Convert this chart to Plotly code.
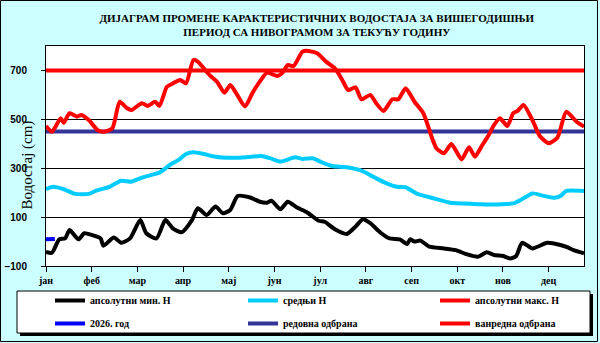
import plotly.graph_objects as go

# дан у години (0-365) и водостаји у cm, очитано са дијаграма
min_days = [0, 4, 9, 13, 16, 22, 26, 31, 37, 39, 46, 51, 57, 64, 68, 75, 81, 86, 92, 99,
            103, 109, 115, 120, 125, 130, 138, 145, 150, 153, 159, 164, 170, 174, 178, 185,
            189, 196, 204, 210, 215, 220, 227, 233, 240, 245, 247, 250, 254, 260, 270, 278,
            285, 293, 299, 304, 310, 315, 319, 323, 330, 340, 349, 354, 358, 365]
min_vals = [-42, -46, 9, 13, 47, 9, 34, 27, 13, -17, 17, -5, 13, 88, 34, 13, 88, 54, 38, 88,
            136, 109, 143, 116, 129, 186, 181, 163, 159, 167, 132, 163, 140, 129, 116, 85,
            81, 50, 31, 61, 91, 75, 36, 13, 9, -10, 9, 0, 4, -21, -28, -35,
            -51, -62, -44, -55, -59, -69, -59, -5, -28, -5, -14, -24, -35, -48]

mean_days = [0, 5, 12, 20, 29, 34, 43, 51, 58, 64, 71, 77, 84, 90, 95, 100, 107, 115, 125,
             136, 146, 152, 159, 169, 174, 181, 186, 194, 204, 214, 222, 231, 238, 244, 252,
             263, 274, 290, 306, 317, 324, 330, 337, 345, 349, 353, 365]
mean_vals = [214, 224, 214, 195, 195, 208, 224, 249, 245, 259, 272, 282, 313, 334, 358, 365,
             358, 347, 343, 345, 350, 341, 327, 345, 338, 341, 327, 309, 304, 290, 265, 238,
             224, 222, 195, 177, 159, 154, 152, 156, 177, 197, 188, 179, 186, 207, 207]

max_days = [0, 4, 10, 12, 16, 21, 24, 29, 35, 39, 45, 50, 55, 58, 65, 69, 74, 77, 82, 86,
            91, 95, 100, 103, 111, 116, 121, 125, 129, 135, 140, 145, 150, 157, 160, 164,
            168, 174, 178, 184, 190, 196, 201, 205, 210, 214, 220, 224, 229, 235, 239, 244,
            250, 256, 262, 265, 270, 275, 282, 287, 291, 296, 300, 304, 308, 313, 317, 320,
            324, 330, 335, 341, 347, 353, 360, 365]
max_vals = [473, 449, 504, 486, 525, 511, 518, 497, 456, 449, 463, 572, 545, 538, 566, 555,
            572, 555, 633, 647, 661, 647, 743, 736, 681, 654, 609, 640, 607, 552, 607, 654,
            691, 677, 688, 722, 718, 777, 780, 770, 736, 709, 661, 620, 631, 582, 600, 566,
            534, 582, 582, 627, 572, 525, 422, 381, 361, 399, 336, 386, 347, 395, 432, 477,
            504, 473, 525, 535, 559, 497, 432, 402, 426, 531, 490, 470]

cur_days = [0, 3, 6]
cur_vals = [9, 10, 10]

redovna = 450
vanredna = 700

month_days = [0, 31, 62, 93, 124, 155, 186, 217, 248, 279, 310, 341]
month_labels = ["јан", "феб", "мар", "апр", "мај", "јун", "јул", "авг", "сеп", "окт", "нов", "дец"]

fig = go.Figure()

fig.add_trace(go.Scatter(x=min_days, y=min_vals, mode="lines", name="апсолутни мин. Н",
                         line=dict(color="black", width=4, shape="spline", smoothing=0.6),
                         legend="legend", legendgroup="a"))
fig.add_trace(go.Scatter(x=cur_days, y=cur_vals, mode="lines", name="2026. год",
                         line=dict(color="#0000ff", width=4),
                         legend="legend", legendgroup="b"))
fig.add_trace(go.Scatter(x=mean_days, y=mean_vals, mode="lines", name="средњи Н",
                         line=dict(color="#00ccff", width=4, shape="spline", smoothing=0.6),
                         legend="legend2", legendgroup="c"))
fig.add_trace(go.Scatter(x=[0, 365], y=[redovna, redovna], mode="lines", name="редовна одбрана",
                         line=dict(color="#333399", width=4),
                         legend="legend2", legendgroup="d"))
fig.add_trace(go.Scatter(x=max_days, y=max_vals, mode="lines", name="апсолутни макс. Н",
                         line=dict(color="#ff0000", width=4, shape="spline", smoothing=0.6),
                         legend="legend3", legendgroup="e"))
fig.add_trace(go.Scatter(x=[0, 365], y=[vanredna, vanredna], mode="lines", name="ванредна одбрана",
                         line=dict(color="#ff0000", width=4),
                         legend="legend3", legendgroup="f"))

# пиксели -> paper координате (површина графика 46..584 x 46..266)
def px(x):
    return (x - 46) / 538

def py(y):
    return (266 - y) / 220

leg_font = dict(family="Liberation Serif", size=10, color="black", weight="bold")
leg_common = dict(orientation="v", yanchor="top", y=py(286), xanchor="left",
                  bgcolor="rgba(0,0,0,0)", borderwidth=0, font=leg_font, tracegroupgap=4)

shapes = [
    # спољни оквир
    dict(type="rect", xref="paper", yref="paper", x0=px(0.5), x1=px(597.5), y0=py(0.5), y1=py(341.5),
         line=dict(color="black", width=1), fillcolor="rgba(0,0,0,0)", layer="below"),
    # сенка и оквир легенде
    dict(type="rect", xref="paper", yref="paper", x0=px(20), x1=px(593), y0=py(294), y1=py(336),
         line=dict(width=0), fillcolor="black", layer="below"),
    dict(type="rect", xref="paper", yref="paper", x0=px(17), x1=px(590), y0=py(291), y1=py(333),
         line=dict(color="black", width=1), fillcolor="white", layer="below"),
]

fig.update_layout(
    width=600, height=343,
    margin=dict(l=46, r=16, t=46, b=77, autoexpand=False),
    paper_bgcolor="#ccffff",
    plot_bgcolor="white",
    title=dict(text="ДИЈАГРАМ ПРОМЕНЕ КАРАКТЕРИСТИЧНИХ ВОДОСТАЈА ЗА ВИШЕГОДИШЊИ<br>ПЕРИОД СА НИВОГРАМОМ ЗА ТЕКУЋУ ГОДИНУ",
               x=0.528, xanchor="center", y=1 - 22 / 343, yanchor="middle",
               font=dict(family="Liberation Serif", size=11, color="black", weight="bold")),
    legend=dict(x=px(50), **leg_common),
    legend2=dict(x=px(243), **leg_common),
    legend3=dict(x=px(435), **leg_common),
    shapes=shapes,
    annotations=[dict(text="Водостај (cm)", xref="paper", yref="paper", x=px(16), y=py(165),
                      textangle=-90, showarrow=False,
                      font=dict(family="Liberation Serif", size=15, color="black"))],
    xaxis=dict(range=[0, 365], tickvals=month_days, ticktext=month_labels,
               ticks="outside", ticklen=5, tickcolor="black", showgrid=False, zeroline=False,
               showline=True, linecolor="black", linewidth=1, mirror=True,
               tickfont=dict(family="Liberation Serif", size=10, color="black", weight="bold")),
    yaxis=dict(range=[-100, 800], tick0=-100, dtick=200, ticks="outside", ticklen=4,
               tickcolor="black", showgrid=True, gridcolor="black", gridwidth=1, zeroline=False,
               showline=True, linecolor="black", linewidth=1, mirror=True, ticklabelstandoff=12,
               tickfont=dict(family="Liberation Sans", size=10, color="black", weight="bold")),
)

fig.write_html("out.html", config={"displayModeBar": False},
               post_script="document.body.style.margin='0';")
